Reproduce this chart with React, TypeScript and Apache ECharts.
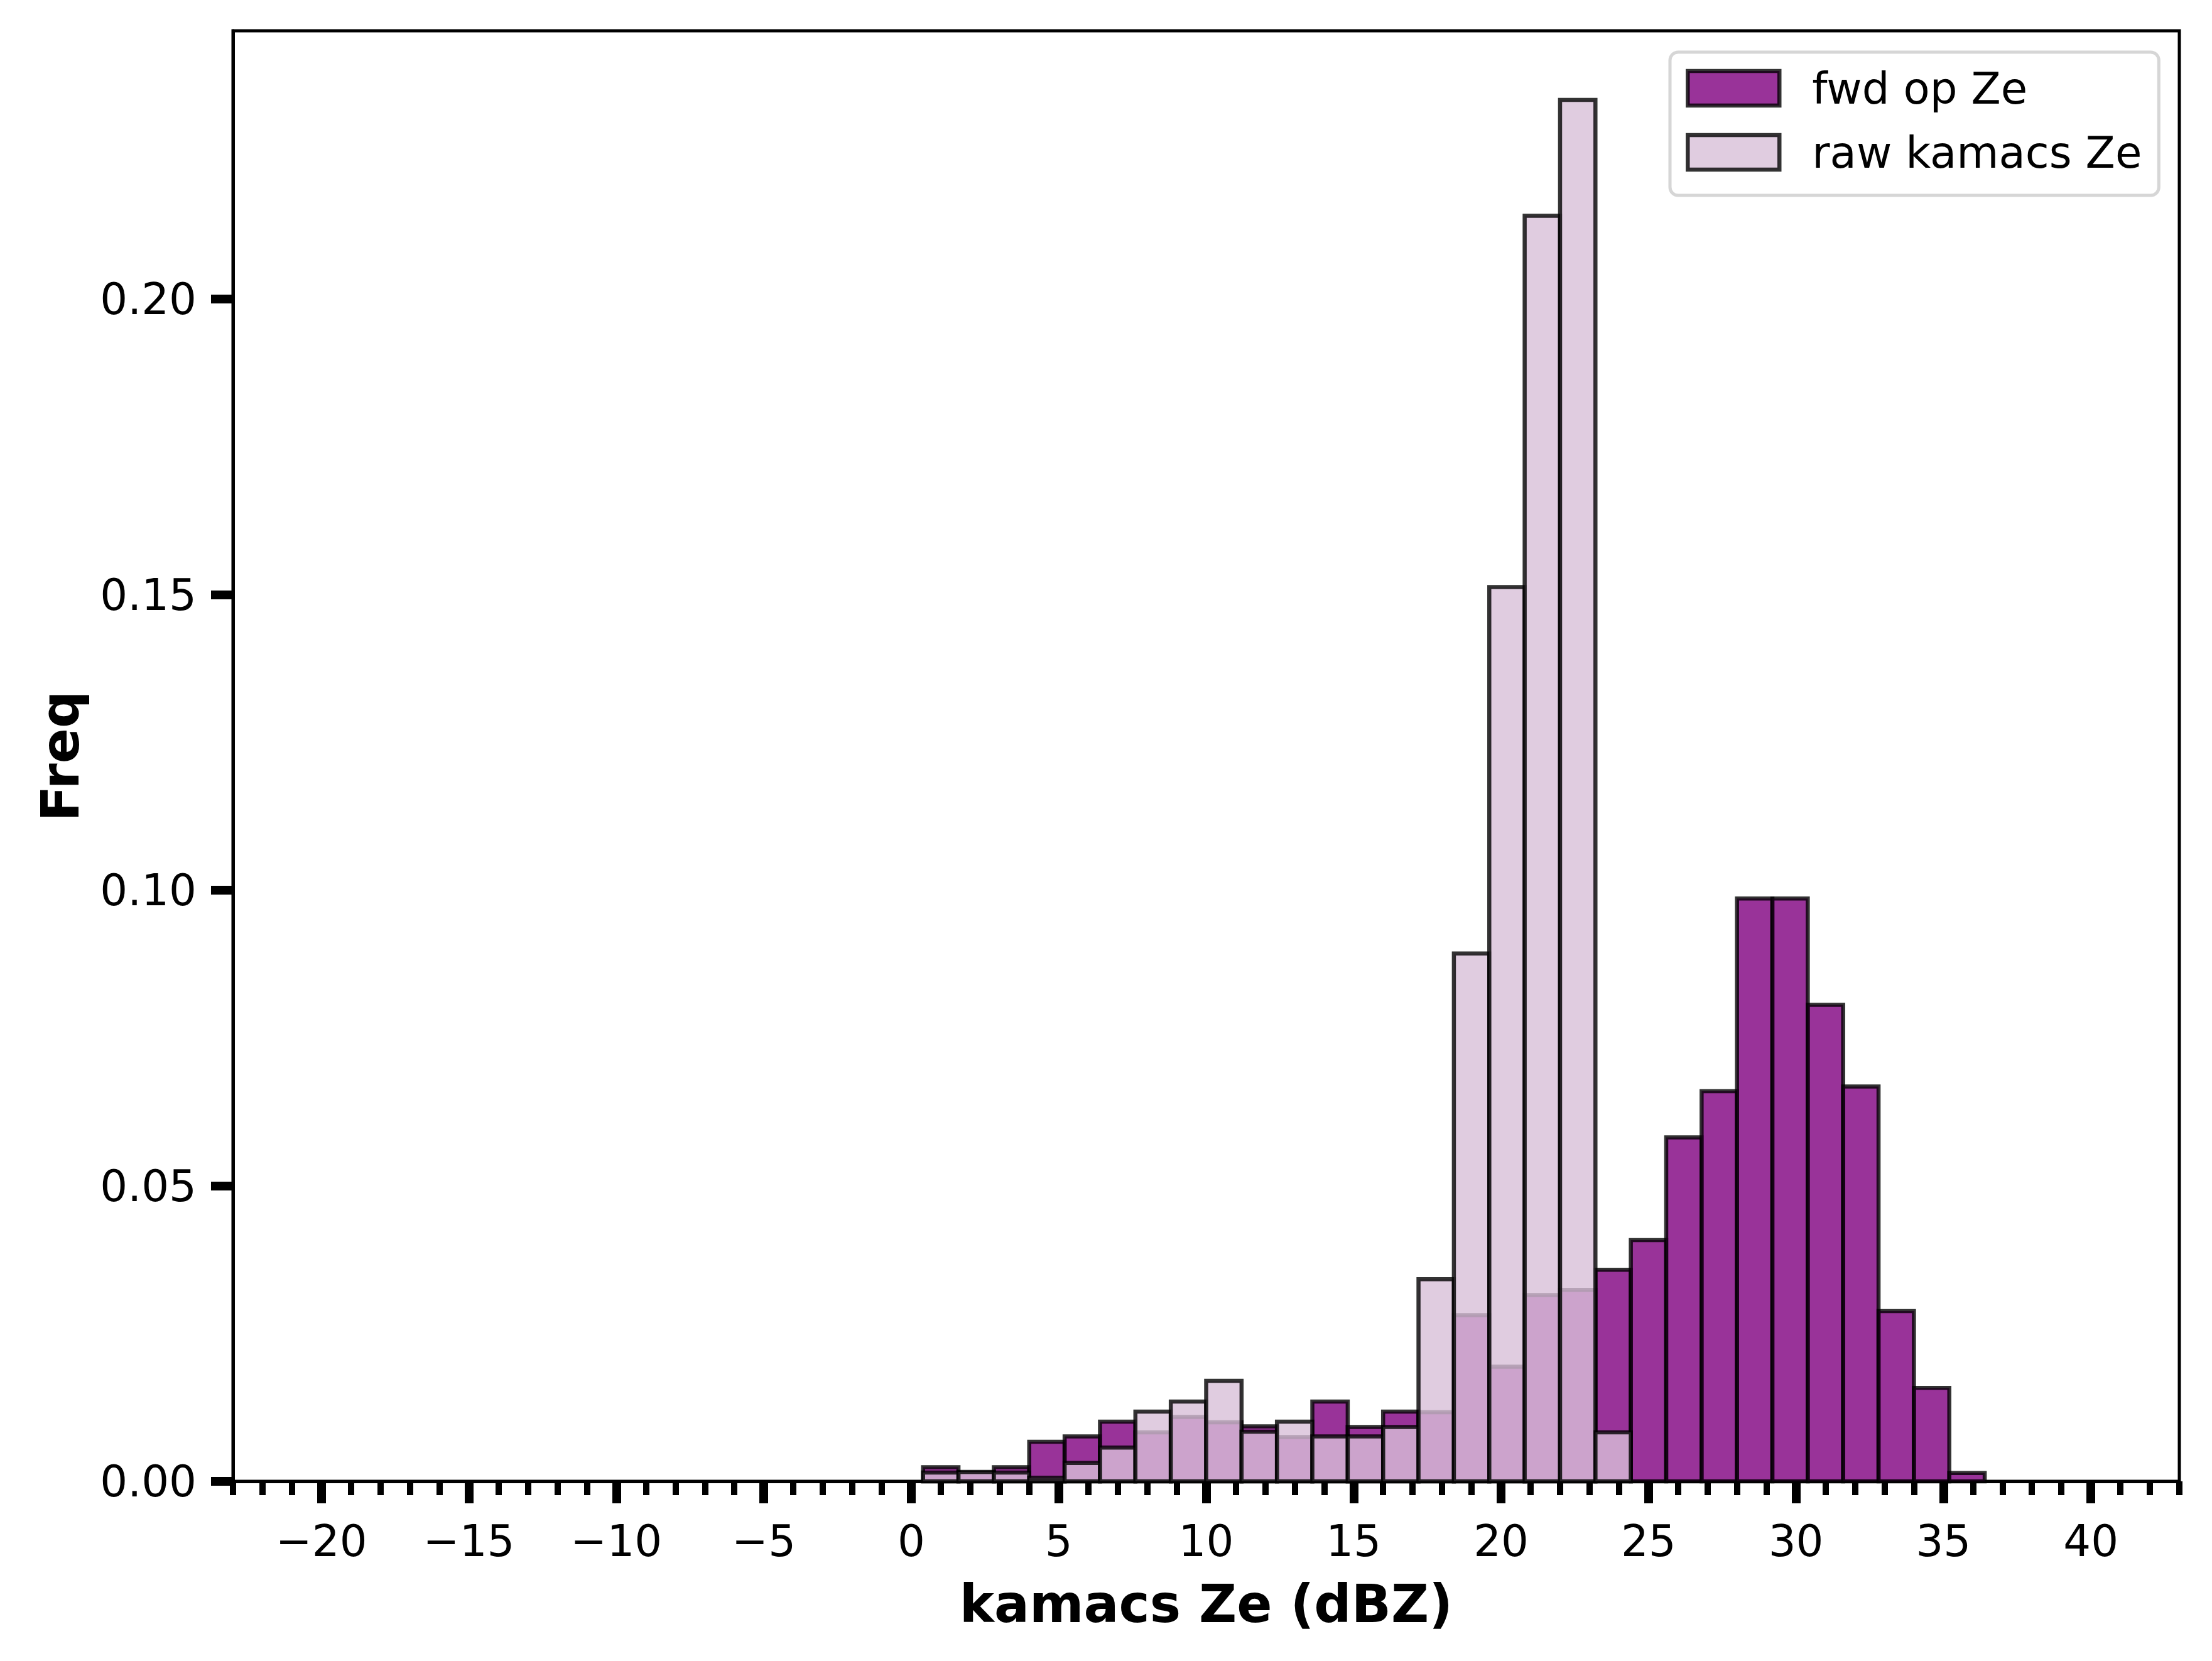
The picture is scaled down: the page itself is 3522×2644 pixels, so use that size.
import React, { useEffect, useRef } from "react";
import * as echarts from "echarts";

// Histogram bin edges (dBZ), width 1.2
const binEdges = [
  0.4, 1.6, 2.8, 4.0, 5.2, 6.4, 7.6, 8.8, 10.0, 11.2, 12.4, 13.6, 14.8, 16.0, 17.2,
  18.4, 19.6, 20.8, 22.0, 23.2, 24.4, 25.6, 26.8, 28.0, 29.2, 30.4, 31.6, 32.8, 34.0,
  35.2, 36.4,
];

// Frequencies per bin
const fwdOpZe = [
  0.0024, 0.0015, 0.0024, 0.0067, 0.0076, 0.0101, 0.0083, 0.0109, 0.0100, 0.0093,
  0.0075, 0.0135, 0.0092, 0.0118, 0.0117, 0.0281, 0.0194, 0.0315, 0.0324, 0.0358,
  0.0408, 0.0582, 0.0660, 0.0986, 0.0986, 0.0806, 0.0668, 0.0288, 0.0158, 0.0014,
];
const rawKamacsZe = [
  0.0015, 0.0016, 0.0015, 0.0006, 0.0031, 0.0057, 0.0118, 0.0135, 0.0170, 0.0084,
  0.0101, 0.0076, 0.0076, 0.0092, 0.0342, 0.0893, 0.1513, 0.2141, 0.2337, 0.0083,
  0, 0, 0, 0, 0, 0, 0, 0, 0, 0,
];

const xMajorTicks = [-20, -15, -10, -5, 0, 5, 10, 15, 20, 25, 30, 35, 40];
const yTicks = [0, 0.05, 0.1, 0.15, 0.2];

const FONT = "DejaVu Sans";
const EDGE = "rgba(0,0,0,0.8)";
const FWD_FILL = "rgba(128,0,128,0.8)";
const RAW_FILL = "rgba(216,191,216,0.8)";
const EDGE_W = 6.5;

function histData(values: number[]) {
  return values.map((v, i) => [binEdges[i], binEdges[i + 1], v]);
}

function makeRender(fill: string) {
  return (params: any, api: any) => {
    const x0 = api.value(0);
    const x1 = api.value(1);
    const y = api.value(2);
    if (!y) return null;
    const p0 = api.coord([x0, y]);
    const p1 = api.coord([x1, 0]);
    return {
      type: "rect",
      shape: { x: p0[0], y: p0[1], width: p1[0] - p0[0], height: p1[1] - p0[1] },
      style: { fill, stroke: EDGE, lineWidth: EDGE_W },
    };
  };
}

export default function App() {
  const ref = useRef<HTMLDivElement>(null);
  useEffect(() => {
    if (!ref.current) return;
    const chart = echarts.init(ref.current, undefined, { renderer: "svg" });
    const fmtX = (v: number) => (v < 0 ? "\u2212" + Math.abs(v) : String(v));
    chart.setOption({
      animation: false,
      backgroundColor: "#ffffff",
      textStyle: { fontFamily: FONT, color: "#000" },
      grid: {
        left: 371,
        top: 49,
        width: 3099,
        height: 2309,
        show: true,
        borderColor: "#000",
        borderWidth: 5,
        backgroundColor: "transparent",
      },
      legend: {
        orient: "vertical",
        left: 2659,
        top: 83,
        padding: [23, 27, 34, 25],
        itemWidth: 146,
        itemHeight: 55,
        itemGap: 33,
        icon: "rect",
        borderColor: "#d6d6d6",
        borderWidth: 5,
        borderRadius: 13,
        backgroundColor: "rgba(255,255,255,0.8)",
        textStyle: {
          fontFamily: FONT,
          fontSize: 69,
          color: "#000",
          lineHeight: 69,
          padding: [0, 0, 0, 47],
        },
        data: [
          {
            name: "fwd op Ze",
            itemStyle: { color: FWD_FILL, borderColor: EDGE, borderWidth: EDGE_W },
          },
          {
            name: "raw kamacs Ze",
            itemStyle: { color: RAW_FILL, borderColor: EDGE, borderWidth: EDGE_W },
          },
        ],
      },
      xAxis: [
        {
          type: "value",
          min: -23,
          max: 43,
          position: "bottom",
          name: "kamacs Ze (dBZ)",
          nameLocation: "middle",
          nameGap: 154,
          nameTextStyle: { fontFamily: FONT, fontSize: 83, fontWeight: "bold", color: "#000" },
          axisLine: { show: true, onZero: false, lineStyle: { color: "#000", width: 5 } },
          axisTick: {
            show: true,
            customValues: xMajorTicks,
            length: 35,
            lineStyle: { color: "#000", width: 14 },
          },
          axisLabel: {
            show: true,
            customValues: xMajorTicks,
            formatter: fmtX,
            margin: 60,
            fontFamily: FONT,
            fontSize: 69,
            color: "#000",
          },
          splitLine: { show: false },
        },
        {
          type: "value",
          min: -23,
          max: 43,
          interval: 1,
          position: "bottom",
          axisLine: { show: false, onZero: false },
          axisTick: { show: true, length: 22, lineStyle: { color: "#000", width: 10 } },
          axisLabel: { show: false },
          splitLine: { show: false },
        },
      ],
      yAxis: {
        type: "value",
        min: 0,
        max: 0.2454,
        position: "left",
        name: "Freq",
        nameLocation: "middle",
        nameGap: 233,
        nameTextStyle: { fontFamily: FONT, fontSize: 83, fontWeight: "bold", color: "#000" },
        axisLine: { show: true, onZero: false, lineStyle: { color: "#000", width: 5 } },
        axisTick: {
          show: true,
          customValues: yTicks,
          length: 35,
          lineStyle: { color: "#000", width: 14 },
        },
        axisLabel: {
          show: true,
          customValues: yTicks,
          formatter: (v: number) => v.toFixed(2),
          margin: 58,
          fontFamily: FONT,
          fontSize: 69,
          color: "#000",
        },
        splitLine: { show: false },
      },
      series: [
        {
          name: "fwd op Ze",
          type: "custom",
          xAxisIndex: 0,
          yAxisIndex: 0,
          itemStyle: { color: FWD_FILL, borderColor: EDGE },
          renderItem: makeRender(FWD_FILL),
          encode: { x: [0, 1], y: 2 },
          data: histData(fwdOpZe),
        },
        {
          name: "raw kamacs Ze",
          type: "custom",
          xAxisIndex: 0,
          yAxisIndex: 0,
          itemStyle: { color: RAW_FILL, borderColor: EDGE },
          renderItem: makeRender(RAW_FILL),
          encode: { x: [0, 1], y: 2 },
          data: histData(rawKamacsZe),
        },
      ],
    });
    return () => chart.dispose();
  }, []);
  return (
    <div
      ref={ref}
      style={{ position: "absolute", left: 0, top: 0, width: 3522, height: 2644 }}
    />
  );
}
